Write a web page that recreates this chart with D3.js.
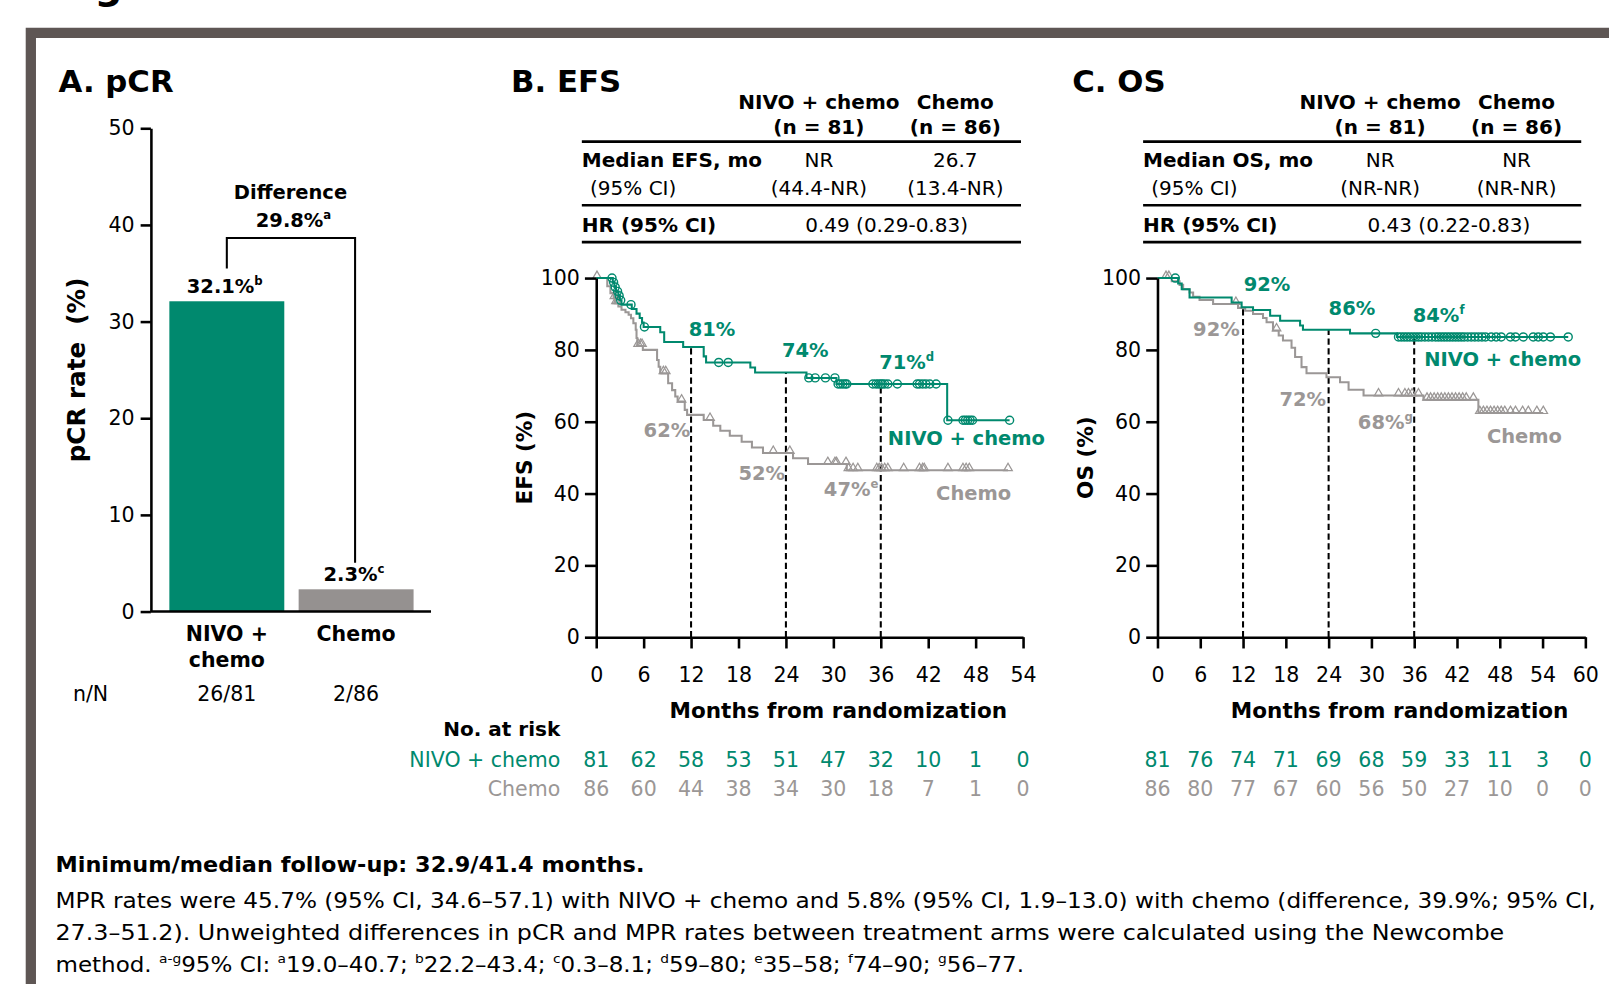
<!DOCTYPE html>
<html>
<head>
<meta charset="utf-8">
<script src="https://cdn.jsdelivr.net/npm/d3@7"></script>
<style>
  body { margin: 0; background: #fff; }
  svg { display: block; font-family: "DejaVu Sans", sans-serif; }
  .axis path, .axis line { stroke: #000; stroke-width: 2.5px; }
  .axis text { font-family: "DejaVu Sans", sans-serif; font-size: 20px; fill: #000; }
  .title { font-size: 30px; font-weight: bold; }
  .tbl { font-size: 19.5px; }
  .b { font-weight: bold; }
</style>
</head>
<body>
<div id="chart"></div>
<script>

var TEAL = "#00896e", GREY = "#9b9796", BAR_GREY = "#959190";

// A. pCR
var pcrGroups = ["NIVO + chemo", "Chemo"];
var pcrRates = [32.1, 2.3];
var pcrSup = ["b", "c"];
var pcrCounts = ["26/81", "2/86"];
var pcrDiff = 29.8;
var pcrTicks = [0, 10, 20, 30, 40, 50];

// B. EFS  (step = [month, % event-free])
var efsTicks = [0, 6, 12, 18, 24, 30, 36, 42, 48, 54];
var efsNivoSteps = [[0,100],[2.1,98.8],[2.3,97.5],[2.5,96.3],[2.8,95.1],[3.0,93.8],[3.2,92.6],[4.5,91.4],[5.1,90.1],[5.5,88.9],[5.8,87.6],[6.0,86.4],[8.1,84.9],[8.6,82.2],[11.0,80.8],[13.6,78.2],[13.9,76.5],[19.5,75.1],[20.1,73.7],[26.6,72.2],[30.4,70.5],[44.4,60.4]];
var efsNivoCensor = [2.0,2.2,2.4,2.7,2.9,3.1,4.4,6.1,15.5,16.7,26.9,27.7,29.0,30.2,30.6,30.9,31.2,31.5,31.7,35.0,35.4,35.7,36.0,36.2,36.5,36.9,38.1,40.6,40.9,41.3,41.7,42.2,43.0,44.5,46.4,46.7,47.0,47.3,47.6,52.3];
var efsChemoSteps = [[0,100],[1.4,97.7],[1.8,95.8],[2.2,94.4],[2.4,93.0],[2.8,92.1],[3.2,91.2],[3.7,90.5],[4.1,89.8],[4.4,88.8],[4.7,87.4],[5.0,85.6],[5.1,83.3],[5.2,81.1],[5.9,80.0],[7.7,77.2],[7.9,75.3],[8.1,73.5],[9.1,70.7],[9.6,68.8],[10.0,67.0],[10.3,65.6],[11.2,63.3],[11.5,61.9],[13.6,60.5],[14.8,58.9],[15.7,57.5],[16.9,56.1],[18.4,54.4],[19.7,52.8],[21.1,51.3],[24.9,49.8],[26.8,48.2],[31.7,46.5]];
var efsChemoCensor = [0.1,2.3,2.5,2.7,5.3,5.6,5.8,8.5,8.8,10.8,14.4,22.4,24.5,29.3,30.2,30.4,31.6,31.9,32.5,33.1,35.5,35.8,36.1,36.5,36.9,38.9,40.9,41.3,41.5,44.5,46.4,46.8,47.2,52.1];
var efsNivoRisk = [81, 62, 58, 53, 51, 47, 32, 10, 1, 0];
var efsChemoRisk = [86, 60, 44, 38, 34, 30, 18, 7, 1, 0];
var efsNivoNotes = [["81%", ""], ["74%", ""], ["71%", "d"]];
var efsChemoNotes = [["62%", ""], ["52%", ""], ["47%", "e"]];
var efsHead = ["NIVO + chemo", "Chemo"];
var efsN = ["(n = 81)", "(n = 86)"];
var efsMedian = ["NR", "26.7"];
var efsMedianCI = ["(44.4-NR)", "(13.4-NR)"];
var efsHR = "0.49 (0.29-0.83)";

// C. OS
var osTicks = [0, 6, 12, 18, 24, 30, 36, 42, 48, 54, 60];
var osNivoSteps = [[0,100],[2.9,98.5],[3.4,96.9],[4.5,94.6],[10.4,93.2],[11.8,91.9],[13.4,91.1],[15.8,89.5],[17.2,88.1],[20.0,86.8],[20.4,85.6],[27.0,84.6],[33.6,83.6]];
var osNivoCensor = [2.5,30.6,33.8,34.2,34.6,35.0,35.4,35.8,36.2,36.6,37.0,37.5,38.0,38.5,39.0,39.4,39.8,40.2,40.6,41.0,41.4,41.8,42.2,42.6,43.0,43.5,44.0,44.5,45.0,45.5,46.0,46.8,47.5,48.2,49.5,50.2,51.3,52.7,53.4,54.1,55.1,57.6];
var osChemoSteps = [[0,100],[2.0,99.1],[3.1,98.1],[3.6,96.9],[4.5,96.0],[5.0,94.8],[5.9,93.9],[7.8,92.8],[11.3,91.7],[12.3,90.9],[13.4,90.0],[14.8,88.9],[15.3,87.7],[16.2,85.4],[17.0,84.0],[17.6,82.6],[18.8,80.6],[19.3,78.0],[20.2,75.2],[20.9,73.5],[23.7,72.4],[25.6,71.0],[26.8,68.9],[28.9,67.3],[37.3,66.1],[45.0,62.4]];
var osChemoCensor = [1.2,1.6,11.0,16.7,31.0,33.8,34.7,35.2,35.7,36.6,37.8,38.3,38.8,39.3,39.8,40.3,40.8,41.3,41.8,42.3,42.8,43.3,44.3,45.2,45.7,46.2,46.7,47.2,47.7,48.2,48.7,49.5,50.2,51.2,52.0,53.2,54.1];
var osNivoRisk = [81, 76, 74, 71, 69, 68, 59, 33, 11, 3, 0];
var osChemoRisk = [86, 80, 77, 67, 60, 56, 50, 27, 10, 0, 0];
var osNivoNotes = [["92%", ""], ["86%", ""], ["84%", "f"]];
var osChemoNotes = [["92%", ""], ["72%", ""], ["68%", "g"]];
var osHead = ["NIVO + chemo", "Chemo"];
var osN = ["(n = 81)", "(n = 86)"];
var osMedian = ["NR", "NR"];
var osMedianCI = ["(NR-NR)", "(NR-NR)"];
var osHR = "0.43 (0.22-0.83)";

var landmarks = [12, 24, 36];

var footBold = "Minimum/median follow-up: 32.9/41.4 months.";
var footLines = [
  [["MPR rates were 45.7% (95% CI, 34.6\u201357.1) with NIVO + chemo and 5.8% (95% CI, 1.9\u201313.0) with chemo (difference, 39.9%; 95% CI,", 0]],
  [["27.3\u201351.2). Unweighted differences in pCR and MPR rates between treatment arms were calculated using the Newcombe", 0]],
  [["method. ", 0], ["a-g", 1], ["95% CI: ", 0], ["a", 1], ["19.0\u201340.7; ", 0], ["b", 1], ["22.2\u201343.4; ", 0], ["c", 1], ["0.3\u20138.1; ", 0], ["d", 1], ["59\u201380; ", 0], ["e", 1], ["35\u201358; ", 0], ["f", 1], ["74\u201390; ", 0], ["g", 1], ["56\u201377.", 0]]
];

var svg = d3.select("#chart").append("svg")
    .attr("width", 1609)
    .attr("height", 984)
    .attr("viewBox", "0 0 1568 959");

// text with superscript parts: parts = [[str, isSup], ...]
function richText(sel, parts, size) {
  var up = false;
  parts.forEach(function(p){
    var t = sel.append("tspan").text(p[0]);
    if (p[1] && !up) { t.attr("dy", -size * 0.42).attr("font-size", size * 0.6); up = true; }
    else if (p[1]) { t.attr("font-size", size * 0.6); }
    else if (up) { t.attr("dy", size * 0.42); up = false; }
  });
  return sel;
}

function survAt(steps, t) {
  var v = steps[0][1];
  steps.forEach(function(s){ if (s[0] <= t) v = s[1]; });
  return v;
}

// cut-off figure caption above the frame
svg.append("text").attr("x", 53).attr("y", -1)
    .attr("font-size", 38).attr("font-weight", "bold").text("Figure 1");

svg.append("path")
    .attr("d", "M30,1000V32H1640")
    .attr("fill", "none")
    .attr("stroke", "#5e5654")
    .attr("stroke-width", 10);

/* ---------- A. pCR ---------- */
var gA = svg.append("g");
gA.append("text").attr("class", "title").attr("x", 57).attr("y", 90).text("A. pCR");

var yA = d3.scaleLinear().domain([0, 50]).range([596, 125]);
var xA = d3.scaleBand().domain(pcrGroups).range([158, 410])
    .paddingInner(0.111).paddingOuter(0.0555);
var barFill = [TEAL, BAR_GREY];

gA.selectAll(".bar")
    .data(pcrRates)
  .enter().append("rect")
    .attr("class", "bar")
    .attr("x", function(d, i){ return xA(pcrGroups[i]); })
    .attr("y", function(d){ return yA(d); })
    .attr("width", xA.bandwidth())
    .attr("height", function(d){ return yA(0) - yA(d); })
    .attr("fill", function(d, i){ return barFill[i]; });

gA.append("g")
    .attr("class", "axis")
    .attr("transform", "translate(147,0)")
    .call(d3.axisLeft(yA).tickValues(pcrTicks).tickSize(10).tickPadding(6).tickSizeOuter(0));

gA.append("line")
    .attr("x1", 147).attr("x2", 420)
    .attr("y1", yA(0)).attr("y2", yA(0))
    .attr("stroke", "#000").attr("stroke-width", 2.5);

function cx(i){ return xA(pcrGroups[i]) + xA.bandwidth() / 2; }

pcrRates.forEach(function(v, i){
  richText(gA.append("text")
      .attr("x", cx(i) - 2).attr("y", yA(v) - 8)
      .attr("text-anchor", "middle").attr("font-size", 19).attr("font-weight", "bold"),
    [[v.toFixed(1) + "%", 0], [pcrSup[i], 1]], 19);
});

// difference bracket
gA.append("path")
    .attr("d", "M" + cx(0) + "," + (yA(pcrRates[0]) - 32) + "V232H" + (cx(1) - 1) + "V" + (yA(pcrRates[1]) - 26))
    .attr("fill", "none").attr("stroke", "#000").attr("stroke-width", 2);
gA.append("text").attr("x", 283).attr("y", 194).attr("text-anchor", "middle")
    .attr("font-size", 19).attr("font-weight", "bold").text("Difference");
richText(gA.append("text").attr("x", 286).attr("y", 221).attr("text-anchor", "middle")
    .attr("font-size", 19).attr("font-weight", "bold"),
  [[pcrDiff.toFixed(1) + "%", 0], ["a", 1]], 19);

var groupLines = [["NIVO +", "chemo"], ["Chemo"]];
groupLines.forEach(function(lines, i){
  lines.forEach(function(l, j){
    gA.append("text").attr("x", cx(i)).attr("y", 625 + j * 25)
        .attr("text-anchor", "middle").attr("font-size", 20).attr("font-weight", "bold").text(l);
  });
});
gA.append("text").attr("x", 71).attr("y", 683).attr("font-size", 20).text("n/N");
pcrCounts.forEach(function(c, i){
  gA.append("text").attr("x", cx(i)).attr("y", 683)
      .attr("text-anchor", "middle").attr("font-size", 20).text(c);
});
gA.append("text")
    .attr("transform", "translate(83," + (yA(25)) + ") rotate(-90)")
    .attr("text-anchor", "middle").attr("font-size", 24).attr("font-weight", "bold")
    .style("white-space", "pre")
    .text("pCR rate  (%)");

/* ---------- summary tables ---------- */
function drawTable(cfg) {
  var g = svg.append("g").attr("class", "tbl");
  cfg.head.forEach(function(h, i){
    g.append("text").attr("class", "b").attr("x", cfg.cols[i]).attr("y", 106)
        .attr("text-anchor", "middle").text(h);
    g.append("text").attr("class", "b").attr("x", cfg.cols[i]).attr("y", 131)
        .attr("text-anchor", "middle").text(cfg.n[i]);
    g.append("text").attr("x", cfg.cols[i]).attr("y", 163)
        .attr("text-anchor", "middle").text(cfg.median[i]);
    g.append("text").attr("x", cfg.cols[i]).attr("y", 190)
        .attr("text-anchor", "middle").text(cfg.ci[i]);
  });
  g.append("text").attr("class", "b").attr("x", cfg.left).attr("y", 163).text(cfg.rowLabel);
  g.append("text").attr("x", cfg.left + 8).attr("y", 190).text("(95% CI)");
  g.append("text").attr("class", "b").attr("x", cfg.left).attr("y", 226).text("HR (95% CI)");
  g.append("text").attr("x", cfg.hrX).attr("y", 226).attr("text-anchor", "middle").text(cfg.hr);
  [138, 200, 236].forEach(function(yy){
    g.append("line").attr("x1", cfg.left).attr("x2", cfg.right)
        .attr("y1", yy).attr("y2", yy).attr("stroke", "#000").attr("stroke-width", 2.5);
  });
}

/* ---------- KM panels ---------- */
function drawKM(cfg) {
  var g = svg.append("g");
  var x = d3.scaleLinear().domain([0, cfg.xMax]).range(cfg.xRange);
  var y = d3.scaleLinear().domain([0, 100]).range([621, 271]);

  g.append("text").attr("class", "title").attr("x", cfg.titleX).attr("y", 90).text(cfg.title);

  // landmark dashed lines up to the NIVO curve
  g.selectAll(".landmark")
      .data(landmarks)
    .enter().append("line")
      .attr("x1", function(d){ return x(d); })
      .attr("x2", function(d){ return x(d); })
      .attr("y1", y(0))
      .attr("y2", function(d){ return y(survAt(cfg.nivoSteps, d)); })
      .attr("stroke", "#000").attr("stroke-width", 2)
      .attr("stroke-dasharray", "6,3.5");

  var line = d3.line()
      .x(function(d){ return x(d[0]); })
      .y(function(d){ return y(d[1]); })
      .curve(d3.curveStepAfter);

  var arms = [
    {steps: cfg.chemoSteps, censor: cfg.chemoCensor, color: GREY, mark: "tri"},
    {steps: cfg.nivoSteps, censor: cfg.nivoCensor, color: TEAL, mark: "circ"}
  ];
  arms.forEach(function(a){
    var end = d3.max(a.censor);
    var pts = a.steps.concat([[end, a.steps[a.steps.length - 1][1]]]);
    g.append("path").datum(pts)
        .attr("d", line)
        .attr("fill", "none").attr("stroke", a.color).attr("stroke-width", 2);
    if (a.mark === "circ") {
      g.selectAll(".cens").data(a.censor).enter().append("circle")
          .attr("cx", function(d){ return x(d); })
          .attr("cy", function(d){ return y(survAt(a.steps, d)); })
          .attr("r", 3.9)
          .attr("fill", "none").attr("stroke", a.color).attr("stroke-width", 1.4);
    } else {
      var tri = d3.symbol().type(d3.symbolTriangle).size(30);
      g.selectAll(".censT").data(a.censor).enter().append("path")
          .attr("d", tri)
          .attr("transform", function(d){ return "translate(" + x(d) + "," + (y(survAt(a.steps, d)) - 2) + ")"; })
          .attr("fill", "none").attr("stroke", a.color).attr("stroke-width", 1.2);
    }
  });

  g.append("g")
      .attr("class", "axis")
      .attr("transform", "translate(" + cfg.xRange[0] + ",0)")
      .call(d3.axisLeft(y).tickValues([0, 20, 40, 60, 80, 100]).tickSize(11).tickPadding(5).tickSizeOuter(0));
  g.append("g")
      .attr("class", "axis")
      .attr("transform", "translate(0," + y(0) + ")")
      .call(d3.axisBottom(x).tickValues(cfg.ticks).tickSize(11).tickPadding(18).tickSizeOuter(0));

  g.append("text")
      .attr("x", cfg.xTitleX).attr("y", 700)
      .attr("text-anchor", "middle").attr("font-size", 21).attr("font-weight", "bold")
      .text("Months from randomization");
  g.append("text")
      .attr("transform", "translate(" + cfg.yTitleX + "," + y(50) + ") rotate(-90)")
      .attr("text-anchor", "middle").attr("font-size", 21).attr("font-weight", "bold")
      .text(cfg.yTitle);

  // percentage call-outs
  cfg.notes.forEach(function(n){
    richText(g.append("text")
        .attr("x", x(n.m)).attr("y", y(n.p))
        .attr("font-size", 19).attr("font-weight", "bold").attr("fill", n.color),
      [[n.text[0], 0], [n.text[1], 1]], 19);
  });
  g.append("text").attr("x", x(cfg.nivoLab[0])).attr("y", y(cfg.nivoLab[1]))
      .attr("font-size", 19).attr("font-weight", "bold").attr("fill", TEAL).text("NIVO + chemo");
  g.append("text").attr("x", x(cfg.chemoLab[0])).attr("y", y(cfg.chemoLab[1]))
      .attr("font-size", 19).attr("font-weight", "bold").attr("fill", GREY).text("Chemo");

  // number at risk
  [[cfg.nivoRisk, TEAL, 748], [cfg.chemoRisk, GREY, 776]].forEach(function(r){
    g.selectAll(".risk").data(r[0]).enter().append("text")
        .attr("x", function(d, i){ return x(cfg.ticks[i]); })
        .attr("y", r[2])
        .attr("text-anchor", "middle").attr("font-size", 20).attr("fill", r[1])
        .text(function(d){ return d; });
  });
  return g;
}

function notesFor(nivo, chemo, nPos, cPos) {
  var out = [];
  nivo.forEach(function(t, i){ out.push({text: t, color: TEAL, m: nPos[i][0], p: nPos[i][1]}); });
  chemo.forEach(function(t, i){ out.push({text: t, color: GREY, m: cPos[i][0], p: cPos[i][1]}); });
  return out;
}

drawTable({head: efsHead, n: efsN, median: efsMedian, ci: efsMedianCI, hr: efsHR,
  cols: [798, 931], left: 567, right: 995, hrX: 864, rowLabel: "Median EFS, mo"});
drawTable({head: osHead, n: osN, median: osMedian, ci: osMedianCI, hr: osHR,
  cols: [1345, 1478], left: 1114, right: 1541, hrX: 1412, rowLabel: "Median OS, mo"});

var gB = drawKM({
  title: "B. EFS", titleX: 498, xMax: 54, xRange: [581, 997], ticks: efsTicks,
  nivoSteps: efsNivoSteps, nivoCensor: efsNivoCensor,
  chemoSteps: efsChemoSteps, chemoCensor: efsChemoCensor,
  nivoRisk: efsNivoRisk, chemoRisk: efsChemoRisk,
  yTitle: "EFS (%)", yTitleX: 518, xTitleX: 817,
  notes: notesFor(efsNivoNotes, efsChemoNotes,
    [[11.7, 84.0], [23.5, 78.0], [35.8, 74.6]],
    [[6.0, 55.7], [18.0, 43.7], [28.8, 39.4]]),
  nivoLab: [36.9, 53.4], chemoLab: [43.0, 38.3]
});

drawKM({
  title: "C. OS", titleX: 1045, xMax: 60, xRange: [1128, 1545], ticks: osTicks,
  nivoSteps: osNivoSteps, nivoCensor: osNivoCensor,
  chemoSteps: osChemoSteps, chemoCensor: osChemoCensor,
  nivoRisk: osNivoRisk, chemoRisk: osChemoRisk,
  yTitle: "OS (%)", yTitleX: 1065, xTitleX: 1364,
  notes: notesFor(osNivoNotes, osChemoNotes,
    [[12.1, 96.3], [24.0, 89.7], [35.8, 87.7]],
    [[5.0, 84.0], [17.1, 64.3], [28.1, 58.0]]),
  nivoLab: [37.4, 75.4], chemoLab: [46.2, 54.0]
});

// at-risk row labels
gB.append("text").attr("x", 546).attr("y", 717).attr("text-anchor", "end")
    .attr("font-size", 19.5).attr("font-weight", "bold").text("No. at risk");
gB.append("text").attr("x", 546).attr("y", 748).attr("text-anchor", "end")
    .attr("font-size", 20).attr("fill", TEAL).text("NIVO + chemo");
gB.append("text").attr("x", 546).attr("y", 776).attr("text-anchor", "end")
    .attr("font-size", 20).attr("fill", GREY).text("Chemo");

/* ---------- footnote ---------- */
svg.append("text").attr("x", 54).attr("y", 850)
    .attr("font-size", 20).attr("font-weight", "bold")
    .attr("textLength", 574).attr("lengthAdjust", "spacingAndGlyphs")
    .text(footBold);
var footWidths = [1501, 1412, 944];
footLines.forEach(function(parts, i){
  richText(svg.append("text").attr("x", 54).attr("y", 885 + i * 31)
      .attr("font-size", 20)
      .attr("textLength", footWidths[i]).attr("lengthAdjust", "spacingAndGlyphs"),
    parts, 20);
});

</script>
</body>
</html>
